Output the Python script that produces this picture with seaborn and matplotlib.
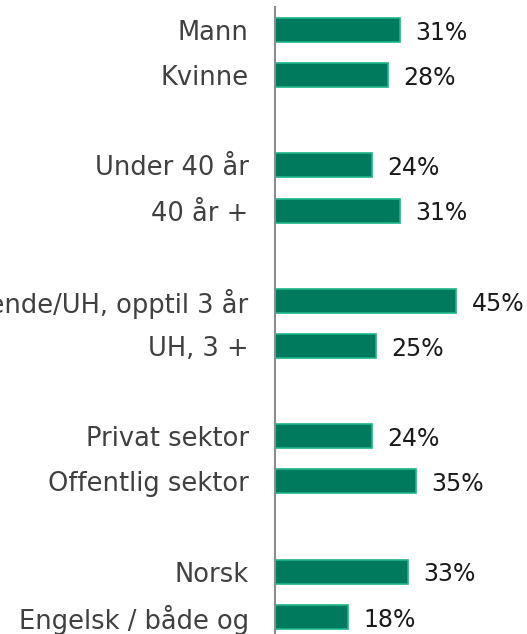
import pandas as pd
import matplotlib
matplotlib.use("Agg")
import matplotlib.pyplot as plt
import seaborn as sns

# data
labels = ["Mann", "Kvinne", "Under 40 år", "40 år +",
          "Videregående/UH, opptil 3 år", "UH, 3 +",
          "Privat sektor", "Offentlig sektor",
          "Norsk", "Engelsk / både og"]
values = [31, 28, 24, 31, 45, 25, 24, 35, 33, 18]

# category order with empty slots between the groups
order = ["Mann", "Kvinne", " ",
         "Under 40 år", "40 år +", "  ",
         "Videregående/UH, opptil 3 år", "UH, 3 +", "   ",
         "Privat sektor", "Offentlig sektor", "    ",
         "Norsk", "Engelsk / både og"]

df = pd.DataFrame({"gruppe": labels, "andel": values})

sns.set_style("white")
plt.rcParams["font.family"] = ["DejaVu Sans"]

fig = plt.figure(figsize=(5.27, 6.34), dpi=100)
ax = fig.add_axes([0.522, 0.0, 0.478, 0.989])

sns.barplot(data=df, x="andel", y="gruppe", order=order, orient="h",
            color="#007A5C", edgecolor="#1DB488", linewidth=1.2,
            width=0.53, saturation=1, ax=ax)

for lab, v in zip(labels, values):
    ax.text(v + 3.8, order.index(lab) + 0.06, f"{v}%", va="center", ha="left",
            fontsize=17, color="#1a1a1a")

ax.set_xlim(0, 62.5)
ax.set_ylim(13.38, -0.51)
ax.set_xlabel("")
ax.set_ylabel("")
ax.set_xticks([])
ax.tick_params(axis="y", length=0, pad=19, labelsize=18.5, labelcolor="#404040")
for s in ["top", "right", "bottom"]:
    ax.spines[s].set_visible(False)
ax.spines["left"].set_color("#8c8c8c")
ax.spines["left"].set_linewidth(1.5)

fig.savefig("out.png", dpi=100)
